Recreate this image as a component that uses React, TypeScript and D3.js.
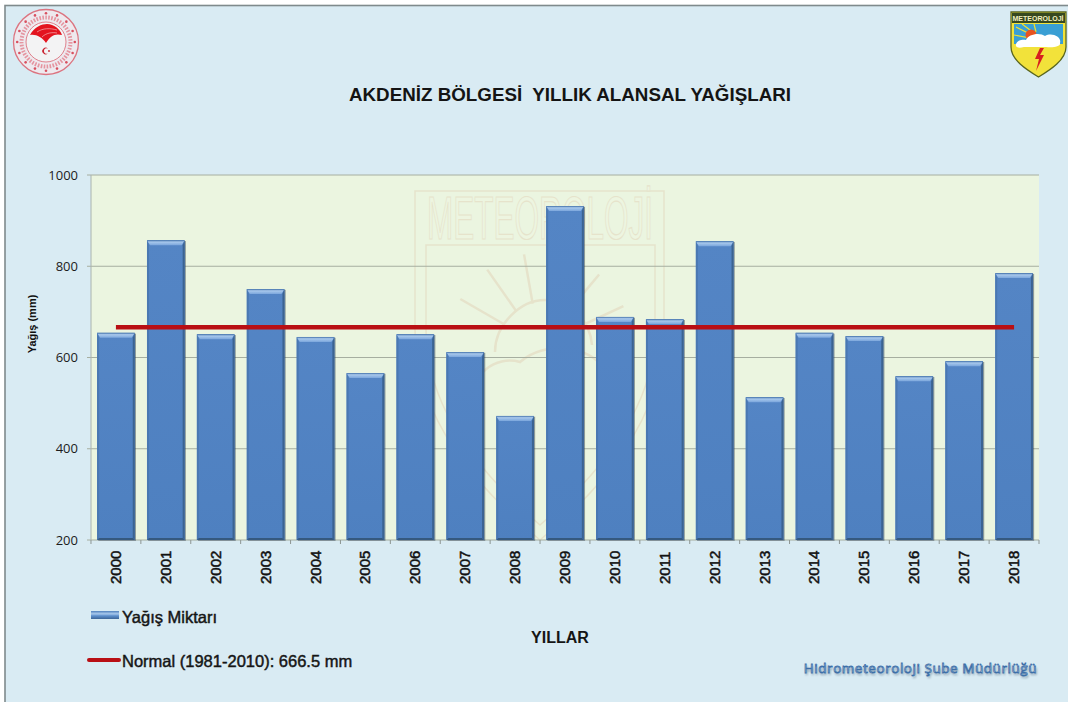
import * as d3 from "d3";

const years = ["2000", "2001", "2002", "2003", "2004", "2005", "2006", "2007", "2008", "2009", "2010", "2011", "2012", "2013", "2014", "2015", "2016", "2017", "2018"];
const rainfall = [654, 857, 651, 750, 645, 566, 651, 612, 472, 932, 689, 684, 855, 513, 654, 647, 559, 592, 785];
const normalValue = 666.5;
const yTicks = [200, 400, 600, 800, 1000];
const sunRays = [-150, -125, -100, -75, -50, -25];

const width = 1068;
const height = 702;
const margin = { top: 175, right: 29, bottom: 162, left: 91 };
const sans = "'Liberation Sans', Arial, sans-serif";
const lightSans = "'Open Sans', 'Noto Sans', sans-serif";

const x = d3.scaleBand().domain(years).range([margin.left, width - margin.right]).paddingInner(0.245).paddingOuter(0.122);
const y = d3.scaleLinear().domain([200, 1000]).range([height - margin.bottom, margin.top]);

function Bar({ year, value }: { year: string; value: number }) {
  const left = x(year) ?? 0;
  const w = x.bandwidth();
  const top = y(value);
  const base = y(200);
  const bevel = 5;
  return (
    <g>
      <rect x={left + 1.2} y={top + 0.8} width={w} height={base - top} fill="#2c3e50" opacity={0.5} />
      <rect x={left} y={top} width={w} height={base - top} fill="url(#barFace)" />
      <path d={`M${left},${top}H${left + w}L${left + w - 3},${top + bevel}H${left + 3}Z`} fill="url(#barTop)" />
      <path d={`M${left},${top}L${left + 2},${top + bevel}V${base - 2}L${left},${base}Z`} fill="#4a78b2" />
      <path d={`M${left + w},${top}L${left + w - 2},${top + bevel}V${base - 2}L${left + w},${base}Z`} fill="#3b6392" />
      <path d={`M${left},${base}L${left + 2},${base - 2}H${left + w - 2}L${left + w},${base}Z`} fill="#35597f" />
    </g>
  );
}

function Watermark() {
  const c = "#e6e3cb";
  const cx = 540;
  const cy = 345;
  const rays = sunRays.map((a) => {
    const t = (a * Math.PI) / 180;
    return `M${cx + 42 * Math.cos(t)},${cy + 42 * Math.sin(t)}L${cx + 92 * Math.cos(t)},${cy + 92 * Math.sin(t)}`;
  });
  return (
    <g fill="none" stroke={c} strokeWidth={1.5}>
      <path d="M415,191H664V330C664,420 600,490 540,540C480,490 415,420 415,330Z" />
      <path d="M426,245H655V330C655,410 595,478 540,525C485,478 426,410 426,330Z" />
      <text x={540} y={239} textAnchor="middle" fontFamily={sans} fontSize={62} textLength={226} lengthAdjust="spacingAndGlyphs" fill="#edf5e0" stroke={c} strokeWidth={1.2}>METEOROLOJİ</text>
      {rays.map((d, i) => <path key={i} d={d} strokeWidth={2.5} />)}
      <path d="M495,352C495,325 520,300 545,300C570,300 590,320 592,345" strokeWidth={2.5} />
      <path d="M475,400C470,375 495,355 520,362C545,340 590,345 605,370C625,375 625,405 600,410" strokeWidth={2.5} />
    </g>
  );
}

function TurkishSeal() {
  const cx = 46;
  const cy = 42;
  const dots = d3.range(16).map((i) => (i * 2 * Math.PI) / 16);
  return (
    <g>
      <circle cx={cx} cy={cy} r={32.5} fill="#eee9ee" stroke="#dc7480" strokeWidth={1.3} />
      <circle cx={cx} cy={cy} r={24.5} fill="none" stroke="#e595a0" strokeWidth={4} strokeDasharray="1.6 1.4" />
      <circle cx={cx} cy={cy} r={20} fill="#f3f3f4" stroke="#dc7480" strokeWidth={0.9} />
      {dots.map((t, i) => <circle key={i} cx={cx + 28.8 * Math.cos(t)} cy={cy + 28.8 * Math.sin(t)} r={1.3} fill="#d8505f" />)}
      <path d="M30,35C34,27 42,24 47,24C54,24 60,29 62,35C55,33 50,36 46,43C42,37 36,34 30,35Z" fill="#e3141f" />
      <path d="M37,32C43,28 50,28 57,30" fill="none" stroke="#f6c9cc" strokeWidth={0.6} />
      <path d="M42,37C46,33 52,32 57,33" fill="none" stroke="#f6c9cc" strokeWidth={0.6} />
      <path d="M48,48.5A3.4,3.4 0 1 0 48,53.5A2.8,2.8 0 1 1 48,48.5Z" fill="#c8202e" />
      <circle cx={49} cy={51} r={0.9} fill="#c8202e" />
    </g>
  );
}

function MeteoShield() {
  return (
    <g>
      <path d="M1011,12H1066V47C1066,60 1050,70 1038.5,77C1027,70 1011,60 1011,47Z" fill="#f2e23a" stroke="#59651f" strokeWidth={1.3} />
      <path d="M1012,13H1065V23H1012Z" fill="#36481f" />
      <text x={1038} y={21} textAnchor="middle" fontFamily={sans} fontWeight={700} fontSize={7} fill="#f2f0c0">METEOROLOJİ</text>
      <path d="M1014,24H1063V44H1014Z" fill="#3a9fd4" />
      <path d="M1016,27L1032,35M1022,24L1034,33M1014,35L1030,38M1034,24L1036,32" stroke="#f4e22c" strokeWidth={1.2} />
      <circle cx={1031} cy={35} r={5.5} fill="#e8531f" />
      <path d="M1016,46C1015,41 1022,39 1026,40C1028,34 1040,32 1045,36C1052,32 1062,37 1060,43C1061,47 1052,48 1046,47H1024C1020,48 1017,48 1016,46Z" fill="#ffffff" />
      <path d="M1040,48L1035,59H1039L1036,71L1044,55H1040L1044,48Z" fill="#d7201f" />
    </g>
  );
}

export default function App() {
  const linePath = d3.line<string>().x((d) => (x(d) ?? 0) + x.bandwidth() / 2).y(() => y(normalValue))([years[0], years[years.length - 1]]) ?? "";
  const tickXs = years.map((yr) => (x(yr) ?? 0) - (x.step() - x.bandwidth()) / 2);

  return (
    <>
      <style>{"body{margin:0;background:#fff}"}</style>
      <svg width={width} height={height} style={{ display: "block" }}>
        <defs>
          <linearGradient id="barFace" x1="0" y1="0" x2="0" y2="1">
            <stop offset="0" stopColor="#5485c5" />
            <stop offset="1" stopColor="#4e80c0" />
          </linearGradient>
          <linearGradient id="barTop" x1="0" y1="0" x2="0" y2="1">
            <stop offset="0" stopColor="#3f6ea8" />
            <stop offset="0.35" stopColor="#a8c8ec" />
            <stop offset="1" stopColor="#7ba6dc" />
          </linearGradient>
          <linearGradient id="swatch" x1="0" y1="0" x2="0" y2="1">
            <stop offset="0" stopColor="#4f80bd" />
            <stop offset="0.35" stopColor="#a9c9ec" />
            <stop offset="0.6" stopColor="#5e90cd" />
            <stop offset="1" stopColor="#3d6699" />
          </linearGradient>
          <filter id="soft" x="-5%" y="-20%" width="110%" height="140%">
            <feGaussianBlur stdDeviation="0.9" />
          </filter>
        </defs>

        <rect x={5} y={5.5} width={width} height={height} fill="#d9ebf3" stroke="#7f8a8c" strokeWidth={1.6} />

        <rect x={margin.left} y={margin.top} width={width - margin.left - margin.right} height={height - margin.top - margin.bottom} fill="#ebf5e0" />
        <Watermark />

        {yTicks.map((t) => (
          <g key={t}>
            <line x1={margin.left - 4} x2={width - margin.right} y1={y(t)} y2={y(t)} stroke="#a6aea0" strokeWidth={1} />
            <text x={78} y={y(t) + 4.5} textAnchor="end" fontFamily={lightSans} fontSize={13} fill="#1c1c1c">{t}</text>
          </g>
        ))}
        <line x1={margin.left} x2={margin.left} y1={margin.top} y2={y(200)} stroke="#a9b3ae" strokeWidth={1} />
        {[...tickXs, width - margin.right].map((tx, i) => (
          <line key={i} x1={tx} x2={tx} y1={y(200)} y2={y(200) + 4} stroke="#8d9592" strokeWidth={1} />
        ))}

        {years.map((yr, i) => <Bar key={yr} year={yr} value={rainfall[i]} />)}

        <path d={linePath} fill="none" stroke="#b90f14" strokeWidth={4.5} />

        {years.map((yr) => {
          const cx = (x(yr) ?? 0) + x.bandwidth() / 2;
          return (
            <text key={yr} transform={`translate(${cx + 5},584) rotate(-90)`} fontFamily={sans} fontSize={15} fill="#111" stroke="#111" strokeWidth={0.5}>{yr}</text>
          );
        })}

        <text x={570} y={101} textAnchor="middle" fontFamily={sans} fontWeight={700} fontSize={18.8} fill="#141414" xmlSpace="preserve">AKDENİZ BÖLGESİ  YILLIK ALANSAL YAĞIŞLARI</text>
        <text transform="translate(36,324) rotate(-90)" textAnchor="middle" fontFamily={sans} fontWeight={700} fontSize={11} fill="#111">Yağış (mm)</text>
        <text x={560} y={643} textAnchor="middle" fontFamily={sans} fontWeight={700} fontSize={16} fill="#151515">YILLAR</text>

        <rect x={91} y={611} width={28} height={8} fill="url(#swatch)" />
        <text x={122} y={623} fontFamily={sans} fontSize={16.5} fill="#151515" stroke="#151515" strokeWidth={0.45}>Yağış Miktarı</text>
        <line x1={89} x2={119} y1={660} y2={660} stroke="#b90f14" strokeWidth={4} strokeLinecap="round" />
        <text x={122} y={667} fontFamily={sans} fontSize={16.5} fill="#151515" stroke="#151515" strokeWidth={0.45}>Normal (1981-2010): 666.5 mm</text>

        <text x={1037} y={673} textAnchor="end" fontFamily={lightSans} fontSize={13.5} letterSpacing={0.55} fill="#27405f" opacity={0.6} transform="translate(1,1.5)" filter="url(#soft)">Hidrometeoroloji Şube Müdürlüğü</text>
        <text x={1037} y={673} textAnchor="end" fontFamily={lightSans} fontSize={13.5} letterSpacing={0.55} fill="#dcecf8" stroke="#3d6fa8" strokeWidth={0.8}>Hidrometeoroloji Şube Müdürlüğü</text>

        <TurkishSeal />
        <MeteoShield />
      </svg>
    </>
  );
}
